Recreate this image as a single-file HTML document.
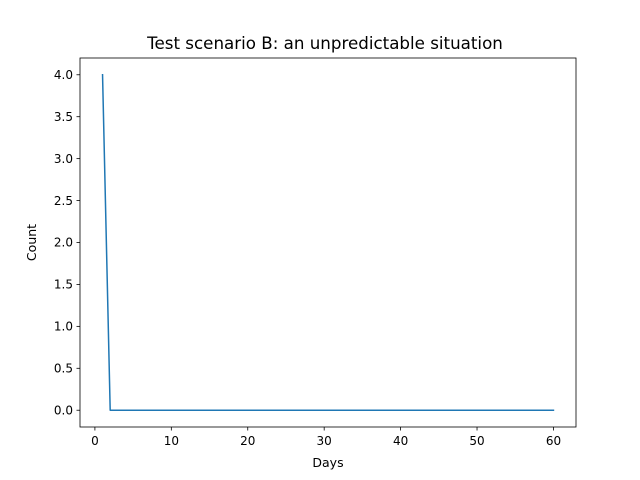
<!DOCTYPE html>
<html><head><meta charset="utf-8"><style>
body{margin:0;background:#fff;}
svg{display:block;font-family:"DejaVu Sans","Liberation Sans",sans-serif;}
</style></head><body>
<svg id="chart" width="640" height="480">
<rect x="0" y="0" width="640" height="480" fill="#fff"/>
<text x="325" y="49" font-size="16.7" text-anchor="middle" fill="#000">Test scenario B: an unpredictable situation</text>
<text x="328" y="467" font-size="12.5" text-anchor="middle" fill="#000">Days</text>
<text transform="translate(36,242.5) rotate(-90)" font-size="12.5" text-anchor="middle" fill="#000">Count</text>
<g id="ticks"></g>
<polyline id="line" fill="none" stroke="#1f77b4" stroke-width="1.5" stroke-linejoin="round" stroke-linecap="square"/>
<rect x="80" y="58" width="496" height="369" fill="none" stroke="#000" stroke-width="0.8"/>
</svg>
<script>
const dayValues = [1,2,3,4,5,6,7,8,9,10,11,12,13,14,15,16,17,18,19,20,21,22,23,24,25,26,27,28,29,30,31,32,33,34,35,36,37,38,39,40,41,42,43,44,45,46,47,48,49,50,51,52,53,54,55,56,57,58,59,60];
const countValues = [4,0,0,0,0,0,0,0,0,0,0,0,0,0,0,0,0,0,0,0,0,0,0,0,0,0,0,0,0,0,0,0,0,0,0,0,0,0,0,0,0,0,0,0,0,0,0,0,0,0,0,0,0,0,0,0,0,0,0,0];
const xTickLabels = ["0","10","20","30","40","50","60"];
const yTickLabels = ["0.0","0.5","1.0","1.5","2.0","2.5","3.0","3.5","4.0"];

const L=80,R=576,T=58,B=427;
const xmin=Math.min(...dayValues),xmax=Math.max(...dayValues);
const xpad=(xmax-xmin)*0.05;
const ymin=Math.min(...countValues),ymax=Math.max(...countValues);
const ypad=(ymax-ymin)*0.05||0.5;
const x0=xmin-xpad,x1=xmax+xpad,y0=ymin-ypad,y1=ymax+ypad;
const sx=v=>L+(v-x0)/(x1-x0)*(R-L);
const sy=v=>B-(v-y0)/(y1-y0)*(B-T);
const NS="http://www.w3.org/2000/svg";
const g=document.getElementById('ticks');
function mk(tag,attrs){const e=document.createElementNS(NS,tag);for(const k in attrs)e.setAttribute(k,attrs[k]);return e;}
xTickLabels.forEach(t=>{
  const v=parseFloat(t),x=sx(v);
  const l=mk('line',{x1:x,x2:x,y1:B,y2:B+3.5,stroke:'#000','stroke-width':0.8});
  
  
  g.appendChild(l);
  const tx=mk('text',{x:x,y:B+18,'font-size':12,'text-anchor':'middle',fill:'#000'});
  tx.textContent=t;
  
  
  g.appendChild(tx);
});
yTickLabels.forEach(t=>{
  const v=parseFloat(t),y=sy(v);
  const l=mk('line',{x1:L-3.5,x2:L,y1:y,y2:y,stroke:'#000','stroke-width':0.8});
  
  
  g.appendChild(l);
  const tx=mk('text',{x:L-7,y:y+4.2,'font-size':12,'text-anchor':'end',fill:'#000'});
  tx.textContent=t;
  
  
  g.appendChild(tx);
});
document.getElementById('line').setAttribute('points',dayValues.map((d,i)=>sx(d)+','+sy(countValues[i])).join(' '));
</script>
</body></html>
